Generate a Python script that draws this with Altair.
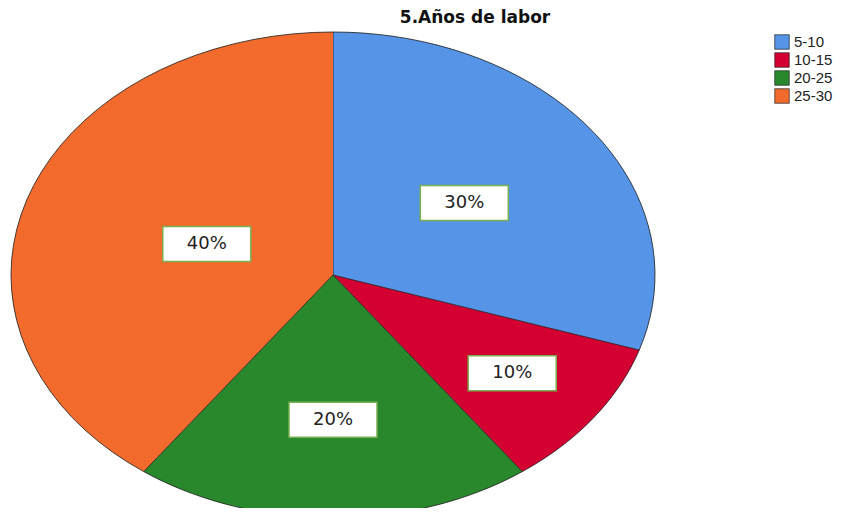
import altair as alt
import pandas as pd

categories = ["5-10", "10-15", "20-25", "25-30"]
percent = [30, 10, 20, 40]
colors = ["#5594E6", "#D50032", "#2A882C", "#F26B2C"]

df = pd.DataFrame({"cat": categories, "value": percent, "idx": list(range(len(categories)))})

xs = alt.Scale(domain=[-1, 1], range=[3, 647])
ys = alt.Scale(domain=[-1, 1], range=[510, 24])
color_scale = alt.Scale(domain=categories, range=colors)

base = alt.Chart(df).transform_joinaggregate(
    total="sum(value)"
).transform_window(
    cum="sum(value)", sort=[alt.SortField("idx")]
).transform_calculate(
    start="(datum.cum - datum.value) / datum.total * 2 * PI",
    end="datum.cum / datum.total * 2 * PI",
)

wedges = base.transform_calculate(
    t="sequence(0, 42)"
).transform_flatten(["t"]).transform_calculate(
    ang="datum.start + (datum.end - datum.start) * (datum.t - 1) / 40",
).transform_calculate(
    px="datum.t == 0 ? 0 : sin(datum.ang)",
    py="datum.t == 0 ? 0 : cos(datum.ang)",
).mark_line(filled=True, stroke="#1a1a1a", strokeWidth=0.8, strokeJoin="round").encode(
    x=alt.X("px:Q", scale=xs, axis=None),
    y=alt.Y("py:Q", scale=ys, axis=None),
    color=alt.Color(
        "cat:N",
        scale=color_scale,
        sort=categories,
        legend=alt.Legend(
            title=None,
            orient="none",
            legendX=766,
            legendY=26,
            symbolType="square",
            symbolSize=210,
            symbolStrokeColor="#222",
            symbolStrokeWidth=0.7,
            symbolOpacity=1,
            labelFontSize=15,
            labelFont="Liberation Sans",
            labelColor="#222",
            rowPadding=0,
            labelOffset=4,
        ),
    ),
    order=alt.Order("t:Q"),
)

label_base = base.transform_calculate(
    mid="(datum.start + datum.end) / 2",
    span="datum.end - datum.start",
).transform_calculate(
    rr="0.78 - 0.1464 * datum.span",
).transform_calculate(
    lx="datum.rr * sin(datum.mid)",
    ly="datum.rr * cos(datum.mid)",
    txt="format(datum.value / datum.total, '.0%')",
)

boxes = label_base.mark_point(
    shape="M-1,-0.398L1,-0.398L1,0.398L-1,0.398Z",
    size=7744,
    filled=True,
    fill="white",
    stroke="#78b050",
    strokeWidth=1.5,
    opacity=1,
).encode(
    x=alt.X("lx:Q", scale=xs, axis=None),
    y=alt.Y("ly:Q", scale=ys, axis=None),
)

texts = label_base.mark_text(
    fontSize=18, font="DejaVu Sans", color="#222"
).encode(
    x=alt.X("lx:Q", scale=xs, axis=None),
    y=alt.Y("ly:Q", scale=ys, axis=None),
    text="txt:N",
)

chart = alt.layer(wedges, boxes, texts).properties(
    width=828,
    height=500,
    autosize=alt.AutoSizeParams(type="none"),
    padding=0,
    title=alt.TitleParams(
        "5.Años de labor",
        fontSize=17,
        font="DejaVu Sans",
        fontWeight="bold",
        color="#111",
        anchor="middle",
        dx=53,
        offset=-32,
        baseline="alphabetic",
    ),
).configure_view(stroke=None)

chart.save("out.html", embed_options={"renderer": "svg", "actions": False})
